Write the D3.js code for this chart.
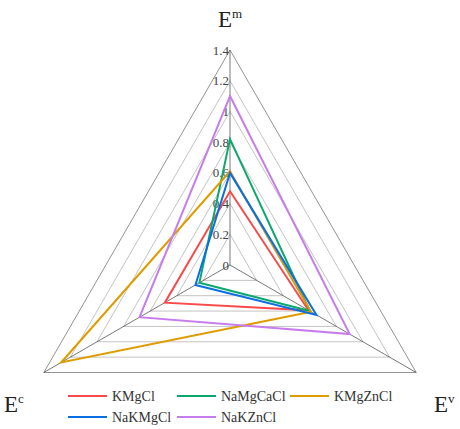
<!DOCTYPE html>
<html>
<head>
<meta charset="utf-8">
<script src="https://cdn.jsdelivr.net/npm/d3@7"></script>
<style>
  body { margin: 0; background: #fff; }
</style>
</head>
<body>
<div id="chart"></div>
<script>
// axes of the radar (clockwise from top)
const axes = ['m', 'v', 'c'];
const ticks = [0, 0.2, 0.4, 0.6, 0.8, 1, 1.2, 1.4];

// values per series : [E^m, E^v, E^c]
const series = ['KMgCl', 'NaMgCaCl', 'KMgZnCl', 'NaKMgCl', 'NaKZnCl'];
const kmgcl    = [0.48, 0.59, 0.49];
const namgcacl = [0.82, 0.60, 0.23];
const kmgzncl  = [0.61, 0.61, 1.27];
const nakmgcl  = [0.60, 0.65, 0.26];
const nakzncl  = [1.10, 0.90, 0.68];
const values = [kmgcl, namgcacl, kmgzncl, nakmgcl, nakzncl];
const colors = ['#f84a4a', '#0aa86c', '#de9c00', '#0a6fe0', '#c67cec'];

const width = 460, height = 429;
const cx = 230, cy = 265, R = 215;
const serif = '"Liberation Serif", "Times New Roman", "DejaVu Serif", serif';

const svg = d3.select('#chart').append('svg')
    .attr('width', width)
    .attr('height', height)
    .attr('font-family', serif)
    .style('font-family', serif);

const g = svg.append('g').attr('transform', `translate(${cx},${cy})`);

const r = d3.scaleLinear().domain([0, 1.4]).range([0, R]);
const angle = d3.scaleOrdinal().domain([0, 1, 2]).range([0, 2 * Math.PI / 3, 4 * Math.PI / 3]);

const radar = d3.lineRadial()
    .angle((d, i) => angle(i))
    .radius(d => r(d))
    .curve(d3.curveLinearClosed);

// grille
g.selectAll('.ring')
    .data(ticks.slice(1))
    .enter()
    .append('path')
    .attr('class', 'ring')
    .attr('d', t => radar([t, t, t]))
    .attr('fill', 'none')
    .attr('stroke', t => t === 1.4 ? '#777' : '#b4b4b4')
    .attr('stroke-width', 0.8);

// axes
g.selectAll('.spoke')
    .data(axes)
    .enter()
    .append('line')
    .attr('class', 'spoke')
    .attr('x2', (d, i) => r(1.4) * Math.sin(angle(i)))
    .attr('y2', (d, i) => -r(1.4) * Math.cos(angle(i)))
    .attr('stroke', '#555')
    .attr('stroke-width', 0.8);

// tick labels
g.selectAll('.tick-label')
    .data(ticks)
    .enter()
    .append('text')
    .attr('class', 'tick-label')
    .attr('x', -1)
    .attr('y', t => -r(t))
    .attr('dy', '0.35em')
    .style('font-family', serif)
    .style('text-anchor', 'end')
    .style('font-size', '13px')
    .style('fill', '#444')
    .text(t => d3.format('~g')(t));

// series
g.selectAll('.serie')
    .data(values)
    .enter()
    .append('path')
    .attr('class', 'serie')
    .attr('d', d => radar(d))
    .attr('fill', 'none')
    .attr('stroke', (d, i) => colors[i])
    .attr('stroke-width', 2)
    .attr('stroke-linejoin', 'miter');

// axis titles E^m, E^v, E^c
const titles = [
    { sup: 'm', x: 230, y: 27, anchor: 'middle' },
    { sup: 'v', x: 434, y: 412, anchor: 'start' },
    { sup: 'c', x: 4, y: 412, anchor: 'start' }
];
titles.forEach(t => {
    const txt = svg.append('text')
        .attr('x', t.x)
        .attr('y', t.y)
        .style('font-family', serif)
        .style('text-anchor', t.anchor)
        .style('font-size', '23px')
        .style('fill', '#222');
    txt.append('tspan').text('E');
    txt.append('tspan')
        .attr('dy', -9)
        .style('font-size', '13px')
        .text(t.sup);
});

// legende
const legendPos = [[68, 396], [177, 396], [290, 396], [68, 417], [177, 417]];
series.forEach((name, i) => {
    const row = svg.append('g')
        .attr('transform', `translate(${legendPos[i][0]},${legendPos[i][1]})`);
    row.append('line')
        .attr('x2', 39)
        .attr('stroke', colors[i])
        .attr('stroke-width', 2);
    row.append('text')
        .attr('x', 44)
        .attr('dy', '0.35em')
        .style('font-family', serif)
        .style('font-size', '14px')
        .style('fill', '#333')
        .text(name);
});
</script>
</body>
</html>
